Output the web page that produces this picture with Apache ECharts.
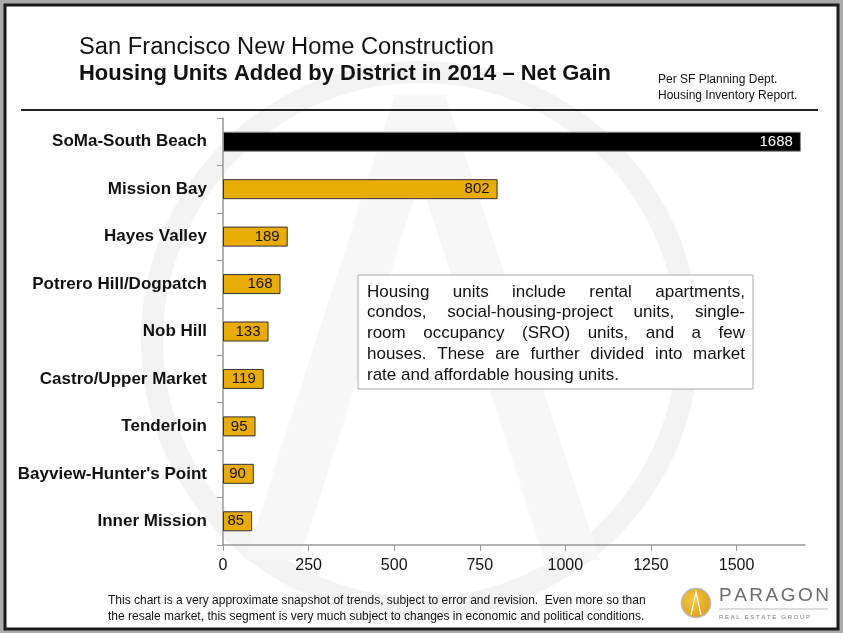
<!DOCTYPE html>
<html><head><meta charset="utf-8">
<script src="https://cdn.jsdelivr.net/npm/echarts@6/dist/echarts.min.js"></script>
<style>html,body{margin:0;padding:0;background:#fff}#c{width:843px;height:633px}</style>
</head><body><div id="c"></div>
<script>
const categories = ['SoMa-South Beach','Mission Bay','Hayes Valley','Potrero Hill/Dogpatch','Nob Hill','Castro/Upper Market','Tenderloin',"Bayview-Hunter's Point",'Inner Mission'];
const values = [1688, 802, 189, 168, 133, 119, 95, 90, 85];
const xTickValues = [0, 250, 500, 750, 1000, 1250, 1500];
const titleLine1 = 'San Francisco New Home Construction';
const titleLine2 = 'Housing Units Added by District in 2014 \u2013 Net Gain';
const sourceLines = ['Per SF Planning Dept.', 'Housing Inventory Report.'];
const noteLines = ['Housing units include rental apartments,', 'condos, social-housing-project units, single-', 'room occupancy (SRO) units, and a few', 'houses. These are further divided into market', 'rate and affordable housing units.'];
const footerLines = ['This chart is a very approximate snapshot of trends, subject to error and revision.  Even more so than', 'the resale market, this segment is very much subject to changes in economic and political conditions.'];

const chart = echarts.init(document.getElementById('c'));
const cv = document.createElement('canvas').getContext('2d');
function fitScale(text, font, width) { cv.font = font; return width / cv.measureText(text).width; }

const t1Font = '23px "Liberation Sans", Arial, sans-serif';
const t2Font = 'bold 22px "Liberation Sans", Arial, sans-serif';
const t1Scale = fitScale(titleLine1, t1Font, 415);
const t2Scale = fitScale(titleLine2, t2Font, 532);

// justified note text
const noteFont = '17px "Liberation Sans", Arial, sans-serif';
cv.font = noteFont;
const noteLeft = 367, noteRight = 745, noteTop = 292, noteLH = 20.8;
const noteEls = [];
noteLines.forEach((line, i) => {
  const words = line.split(' ');
  const y = noteTop + i * noteLH;
  const last = i === noteLines.length - 1;
  const total = words.reduce((s, w) => s + cv.measureText(w).width, 0);
  const gap = last ? cv.measureText(' ').width : (noteRight - noteLeft - total) / (words.length - 1);
  let x = noteLeft;
  words.forEach(w => {
    noteEls.push({type: 'text', x: x, y: y, z: 10, style: {text: w, font: noteFont, fill: '#111', textVerticalAlign: 'middle'}});
    x += cv.measureText(w).width + gap;
  });
});

// logo letters
const logoEls = [];
const logoFont = '19px "Liberation Sans", Arial, sans-serif';
cv.font = logoFont;
let lx = 719;
'PARAGON'.split('').forEach(ch => {
  logoEls.push({type: 'text', x: lx, y: 596, z: 10, style: {text: ch, font: logoFont, fill: '#6b6b6b', textVerticalAlign: 'middle'}});
  lx += cv.measureText(ch).width + 2.5;
});

const option = {
  backgroundColor: '#ababab',
  animation: false,
  grid: {left: 223, right: 38, top: 118, bottom: 88, containLabel: false},
  xAxis: {
    type: 'value', min: 0, max: 1700, interval: 250,
    splitLine: {show: false},
    axisLine: {show: true, lineStyle: {color: '#999', width: 1.5}},
    axisTick: {show: true, length: 6, lineStyle: {color: '#999'}, customValues: xTickValues},
    axisLabel: {customValues: xTickValues, color: '#111', fontSize: 16, margin: 13,
      formatter: v => String(v),
      fontFamily: '"Liberation Sans Narrow", "Liberation Sans", Arial, sans-serif'}
  },
  yAxis: {
    type: 'category', data: categories, inverse: true,
    axisLine: {show: true, lineStyle: {color: '#999', width: 1.5}},
    axisTick: {show: true, length: 6, lineStyle: {color: '#999'}},
    axisLabel: {color: '#111', fontSize: 17, fontWeight: 'bold', margin: 16,
      fontFamily: '"Liberation Sans", Arial, sans-serif'}
  },
  series: [{
    type: 'bar', barWidth: 20, z: 5,
    data: values.map((v, i) => i === 0 ? {value: v, itemStyle: {color: '#000', borderColor: '#888'}, label: {color: '#fff'}} : v),
    itemStyle: {color: '#E9AB06', borderColor: '#333', borderWidth: 1},
    label: {show: true, position: 'insideRight', distance: 8, color: '#111', fontSize: 15,
      fontFamily: '"Liberation Sans", Arial, sans-serif'}
  }],
  graphic: [
    {type: 'rect', z: -5, shape: {x: 5, y: 5, width: 833, height: 624}, style: {fill: '#fff', stroke: '#1a1a1a', lineWidth: 3}},
    {type: 'circle', z: -4, shape: {cx: 420, cy: 340, r: 268}, style: {fill: 'none', stroke: '#f3f3f3', lineWidth: 22}},
    {type: 'polygon', z: -4, shape: {points: [[395, 95], [445, 95], [600, 560], [545, 560], [420, 180], [300, 560], [245, 560]]}, style: {fill: '#f7f7f7'}},
    {type: 'text', x: 79, y: 48, scaleX: t1Scale, z: 10, style: {text: titleLine1, font: t1Font, fill: '#111', textVerticalAlign: 'middle'}},
    {type: 'text', x: 79, y: 74, scaleX: t2Scale, z: 10, style: {text: titleLine2, font: t2Font, fill: '#111', textVerticalAlign: 'middle'}},
    {type: 'text', x: 658, y: 80, z: 10, style: {text: sourceLines[0], font: '12px "Liberation Sans", Arial, sans-serif', fill: '#111', textVerticalAlign: 'middle'}},
    {type: 'text', x: 658, y: 96, z: 10, style: {text: sourceLines[1], font: '12px "Liberation Sans", Arial, sans-serif', fill: '#111', textVerticalAlign: 'middle'}},
    {type: 'line', z: 10, shape: {x1: 21, y1: 110, x2: 818, y2: 110}, style: {stroke: '#222', lineWidth: 2}},
    {type: 'rect', z: 9, shape: {x: 358, y: 275, width: 395, height: 114}, style: {fill: '#fff', stroke: '#aaa', lineWidth: 1}},
    ...noteEls,
    {type: 'text', x: 108, y: 601, z: 10, style: {text: footerLines[0], font: '12px "Liberation Sans", Arial, sans-serif', fill: '#111', textVerticalAlign: 'middle'}},
    {type: 'text', x: 108, y: 617, z: 10, style: {text: footerLines[1], font: '12px "Liberation Sans", Arial, sans-serif', fill: '#111', textVerticalAlign: 'middle'}},
    {type: 'circle', z: 10, shape: {cx: 696, cy: 603, r: 14.5}, style: {stroke: '#bbb', lineWidth: 1.5, fill: {type: 'radial', x: 0.4, y: 0.4, r: 0.7, colorStops: [{offset: 0, color: '#f7c84a'}, {offset: 1, color: '#d99a0b'}]}}},
    {type: 'polyline', z: 11, shape: {points: [[691, 615], [696, 592], [701, 615]]}, style: {stroke: '#fff', lineWidth: 1.2, fill: 'none'}},
    ...logoEls,
    {type: 'line', z: 10, shape: {x1: 719, y1: 609, x2: 828, y2: 609}, style: {stroke: '#bbb', lineWidth: 1}},
    {type: 'text', x: 719, y: 617, z: 10, style: {text: 'R E A L   E S T A T E   G R O U P', font: '6px "Liberation Sans", Arial, sans-serif', fill: '#777', textVerticalAlign: 'middle'}}
  ]
};
chart.setOption(option);
</script></body></html>
